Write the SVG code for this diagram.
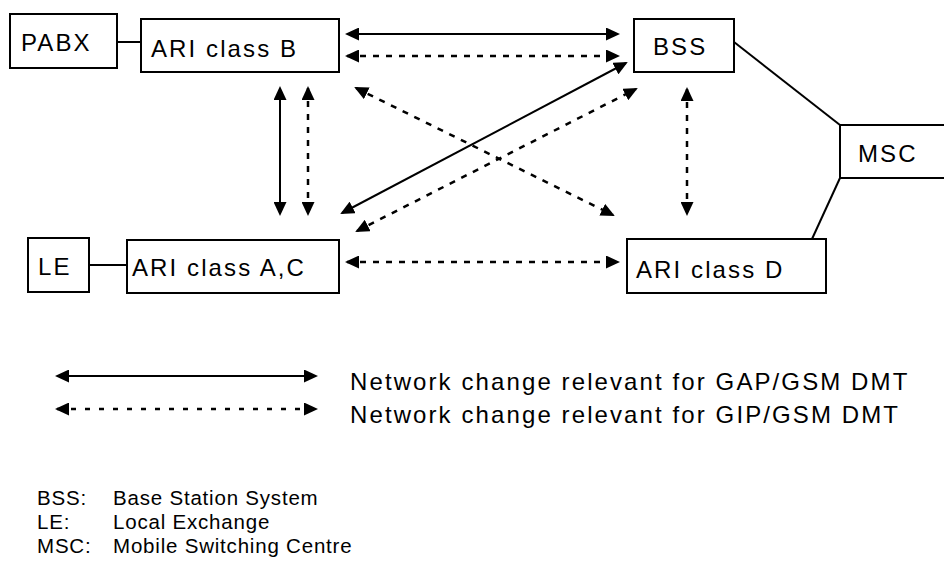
<svg xmlns="http://www.w3.org/2000/svg" width="944" height="565" viewBox="0 0 944 565">
<style>
.box{fill:#fff;stroke:#000;stroke-width:2}
.lbl{font-family:"Liberation Sans",Arial,sans-serif;font-size:24px;letter-spacing:2.1px;fill:#000}
.abbr{font-family:"Liberation Sans",Arial,sans-serif;font-size:20.5px;letter-spacing:0.8px;fill:#000}
.ln{stroke:#000;stroke-width:2;fill:none}
.sol{stroke:#000;stroke-width:2;fill:none;marker-start:url(#ah);marker-end:url(#ah)}
.dsh{stroke:#000;stroke-width:2.5;fill:none;stroke-dasharray:6 7;marker-start:url(#ah);marker-end:url(#ah)}
.dshl{stroke:#000;stroke-width:2.5;fill:none;stroke-dasharray:5 9;marker-start:url(#ah);marker-end:url(#ah)}
</style>
<defs>
<marker id="ah" viewBox="0 0 14 13" refX="12" refY="6.5" markerWidth="14" markerHeight="13" markerUnits="userSpaceOnUse" orient="auto-start-reverse">
<path d="M0,0 L14,6.5 L0,13 z" fill="#000"/>
</marker>
</defs>
<g id="connectors">
<line class="ln" x1="117" y1="42" x2="141" y2="42"/>
<line class="ln" x1="89" y1="265" x2="127" y2="265"/>
<line class="ln" x1="734" y1="42" x2="840" y2="125"/>
<line class="ln" x1="840" y1="178" x2="812" y2="239"/>
<line class="sol" x1="347" y1="34" x2="618" y2="34"/>
<line class="dsh" x1="347" y1="56" x2="618" y2="56"/>
<line class="sol" x1="280" y1="88" x2="280" y2="214"/>
<line class="dsh" x1="308" y1="88" x2="308" y2="214"/>
<line class="dsh" x1="356" y1="88" x2="613" y2="215"/>
<line class="sol" x1="342" y1="213" x2="626" y2="63"/>
<line class="dsh" x1="357" y1="231" x2="636" y2="89"/>
<line class="dsh" x1="687" y1="89" x2="687" y2="214"/>
<line class="dsh" x1="347" y1="262" x2="618" y2="262"/>
</g>
<g id="PABX"><rect class="box" x="10" y="14" width="107" height="54"/><text class="lbl" x="21" y="51">PABX</text></g>
<g id="ARI_B"><rect class="box" x="141" y="19" width="198" height="53"/><text class="lbl" x="151" y="57">ARI class B</text></g>
<g id="BSS"><rect class="box" x="634" y="19" width="100" height="53"/><text class="lbl" x="653" y="55">BSS</text></g>
<g id="MSC"><rect class="box" x="840" y="125" width="110" height="53"/><text class="lbl" x="858" y="162">MSC</text></g>
<g id="LE"><rect class="box" x="28" y="238" width="61" height="54"/><text class="lbl" x="38" y="275">LE</text></g>
<g id="ARI_AC"><rect class="box" x="127" y="240" width="212" height="53"/><text class="lbl" x="132" y="276">ARI class A,C</text></g>
<g id="ARI_D"><rect class="box" x="627" y="239" width="199" height="54"/><text class="lbl" x="636" y="278">ARI class D</text></g>
<g id="legend">
<line class="sol" x1="57" y1="376" x2="316" y2="376"/>
<line class="dshl" x1="57" y1="409" x2="316" y2="409"/>
<text class="lbl" x="350" y="390">Network change relevant for GAP/GSM DMT</text>
<text class="lbl" x="350" y="423">Network change relevant for GIP/GSM DMT</text>
</g>
<g id="abbreviations">
<text class="abbr" x="37" y="505">BSS:</text><text class="abbr" x="113" y="505">Base Station System</text>
<text class="abbr" x="37" y="529">LE:</text><text class="abbr" x="113" y="529">Local Exchange</text>
<text class="abbr" x="37" y="553">MSC:</text><text class="abbr" x="113" y="553">Mobile Switching Centre</text>
</g>
</svg>
